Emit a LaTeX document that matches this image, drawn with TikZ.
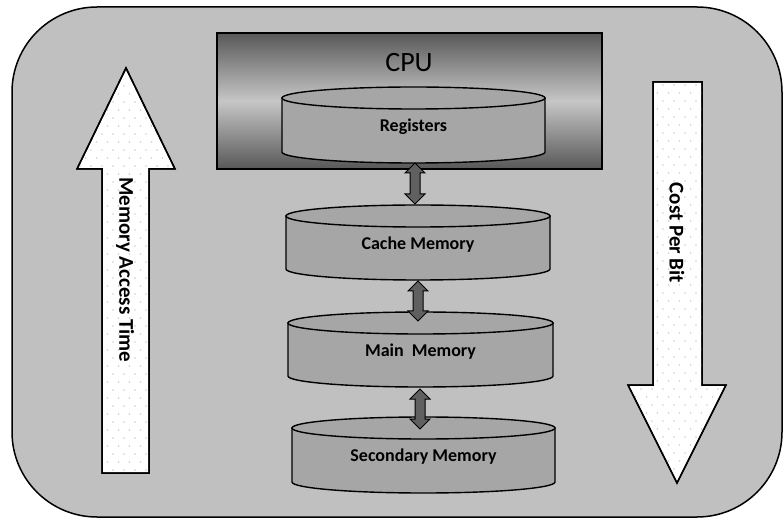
\documentclass[tikz,border=0pt]{standalone}
\usepackage{fontspec}
\setmainfont{Carlito}
\usetikzlibrary{calc}
\definecolor{bgray}{HTML}{C0C0C0}
\definecolor{cylgray}{HTML}{A6A6A6}
\definecolor{arrgray}{HTML}{606060}
\definecolor{cpudark}{HTML}{585858}
\definecolor{cpulight}{HTML}{C6C6C6}
\definecolor{dotgray}{HTML}{CFCFCF}
\newcommand\cylshape[4]{%
 \pgfmathsetmacro\cxc{(#1+#3)/2}%
 \pgfmathsetmacro\crx{(#3-#1)/2}%
 \pgfmathsetmacro\kx{0.5523*\crx}%
 \pgfmathsetmacro\ya{#2+11}%
 \pgfmathsetmacro\yb{#4-11}%
 \draw[cylline] (#1,\ya) -- (#1,\yb) .. controls (#1,\yb+6.1) and (\cxc-\kx,#4) .. (\cxc,#4) .. controls (\cxc+\kx,#4) and (#3,\yb+6.1) .. (#3,\yb) -- (#3,\ya) -- cycle;
 \draw[cylline] (\cxc,\ya) ellipse [x radius=\crx pt, y radius=11pt];
}
\newcommand\blockdbl[2]{%
 \draw[dblarrow] let \p1=(#1), \p2=(#2) in
  (\x1,\y1) -- (\x1+10pt,\y1-10pt) -- (\x1+5pt,\y1-10pt) -- (\x1+5pt,\y2+10pt) -- (\x1+10pt,\y2+10pt) -- (\x1,\y2)
  -- (\x1-10pt,\y2+10pt) -- (\x1-5pt,\y2+10pt) -- (\x1-5pt,\y1-10pt) -- (\x1-10pt,\y1-10pt) -- cycle;
}
\tikzset{
 outerbox/.style={draw=black, line width=1.5pt, fill=bgray, rounded corners=85pt},
 cylline/.style={draw=black, line width=1.4pt, fill=cylgray},
 dblarrow/.style={draw=black, line width=1pt, fill=arrgray, line join=miter},
 bigarrow/.style={draw=black, line width=1.5pt, line join=miter},
 lbl/.style={font=\bfseries\fontsize{18}{21}\selectfont, inner sep=0pt},
 sidelbl/.style={font=\bfseries\fontsize{21}{24}\selectfont, inner sep=0pt, rotate=-90},
 cpubox/.style={draw=black, line width=1.5pt, top color=cpudark, bottom color=cpudark, middle color=cpulight, minimum width=385pt, minimum height=136pt, inner sep=0pt},
}
\begin{document}
\begin{tikzpicture}[x=1pt,y=-1pt]
\useasboundingbox (0,0) rectangle (784,526);
\draw[outerbox] (12,7) rectangle (782,517);

% CPU
\node[cpubox] (cpu) at (409.5,101) {};
\node[font=\fontsize{28}{31}\selectfont, inner sep=0pt] (cpulbl) at (409,63) {CPU};

% cylinders
\cylshape{282}{87}{545}{163}
\node[lbl] (reg) at (413.5,127) {Registers};
\coordinate (regbot) at (415,163);
\cylshape{286}{205}{550}{280}
\node[lbl] (cache) at (418,245) {Cache Memory};
\coordinate (cachetop) at (415,204);
\coordinate (cachebot) at (418,281);
\cylshape{288}{312}{553}{387}
\node[lbl] (main) at (420.5,352) {Main\ \ Memory};
\coordinate (maintop) at (418,321);
\coordinate (mainbot) at (420,389);
\cylshape{292}{417}{555}{493}
\node[lbl] (sec) at (423.5,457) {Secondary Memory};
\coordinate (sectop) at (420,429);

% double arrows
\blockdbl{regbot}{cachetop}
\blockdbl{cachebot}{maintop}
\blockdbl{mainbot}{sectop}

% left big arrow
\path[bigarrow, fill=white] (126,68) -- (175,169) -- (149,169) -- (149,473) -- (102,473) -- (102,169) -- (77,169) -- cycle;
\begin{scope}
\clip (126,68) -- (175,169) -- (149,169) -- (149,473) -- (102,473) -- (102,169) -- (77,169) -- cycle;
\foreach \r in {0,...,52} {
 \pgfmathsetmacro\yy{70+\r*8}
 \pgfmathsetmacro\off{mod(\r,2)*5.5}
 \foreach \c in {0,...,9} {
  \fill[dotgray] (80+\off+\c*11,\yy) circle (0.9pt);
 }
}
\end{scope}
\draw[bigarrow] (126,68) -- (175,169) -- (149,169) -- (149,473) -- (102,473) -- (102,169) -- (77,169) -- cycle;
\node[sidelbl] (mat) at (125,270) {Memory Access Time};

% right big arrow
\path[bigarrow, fill=white] (653,82) -- (702,82) -- (702,385) -- (726,385) -- (677,483) -- (628,385) -- (653,385) -- cycle;
\begin{scope}
\clip (653,82) -- (702,82) -- (702,385) -- (726,385) -- (677,483) -- (628,385) -- (653,385) -- cycle;
\foreach \r in {0,...,52} {
 \pgfmathsetmacro\yy{85+\r*8}
 \pgfmathsetmacro\off{mod(\r,2)*5.5}
 \foreach \c in {0,...,9} {
  \fill[dotgray] (630+\off+\c*11,\yy) circle (0.9pt);
 }
}
\end{scope}
\draw[bigarrow] (653,82) -- (702,82) -- (702,385) -- (726,385) -- (677,483) -- (628,385) -- (653,385) -- cycle;
\node[sidelbl] (cpb) at (677,233) {Cost Per Bit};
\end{tikzpicture}
\end{document}
